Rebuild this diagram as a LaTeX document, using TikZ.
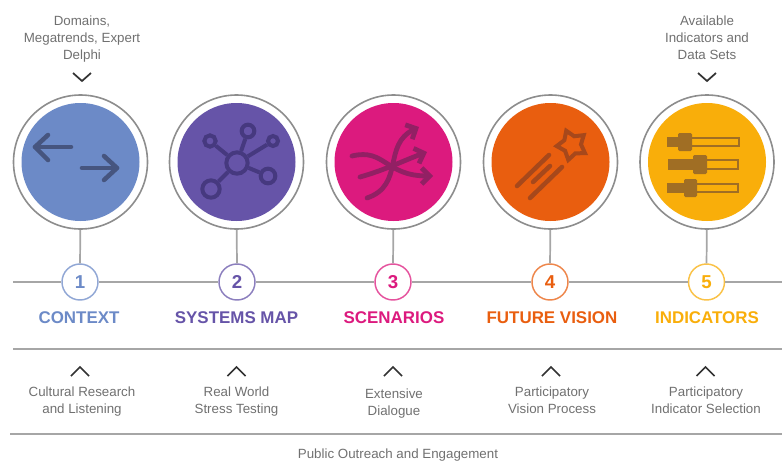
\documentclass[tikz,border=0pt]{standalone}
\usepackage{fontspec}
\setmainfont{Liberation Sans}
\usetikzlibrary{arrows.meta}
\usetikzlibrary{shapes.geometric}
\definecolor{cBlue}{HTML}{6C8AC7}
\definecolor{cPurple}{HTML}{6654A8}
\definecolor{cPink}{HTML}{DC1A7E}
\definecolor{cOrange}{HTML}{E95E0F}
\definecolor{cYellow}{HTML}{F9AE0A}
\definecolor{iBlue}{HTML}{46557F}
\definecolor{iPurple}{HTML}{46397F}
\definecolor{iPink}{HTML}{922064}
\definecolor{iOrange}{HTML}{A7481B}
\definecolor{iYellow}{HTML}{A06E24}
\definecolor{cText}{HTML}{707070}
\definecolor{cRule}{HTML}{A6A6A6}
\tikzset{
  ring/.style={circle, draw=cRule!85!black, line width=1.2pt, fill=white, minimum size=100.5pt, inner sep=0pt},
  disc/.style={circle, fill=#1, minimum size=88.5pt, inner sep=0pt},
  numring/.style={circle, draw=#1!75!white, line width=1.1pt, fill=white, text=#1, minimum size=27pt, inner sep=0pt, font=\fontsize{14}{14}\selectfont\bfseries},
  headlabel/.style={text=#1, font=\fontsize{12.7}{14}\selectfont\bfseries},
  note/.style={text=cText, align=center, font=\fontsize{10}{12.7}\selectfont},
  rule/.style={draw=cRule, line width=1.3pt},
  chevron/.style={draw=black!80, line width=1.3pt},
  hub/.style={circle, draw=iPurple, line width=3pt, inner sep=0pt, minimum size=#1},
}
\newcommand{\stage}[6]{
  \node[ring] (ring#1) at (#2, 162) {};
  \node[disc=#3] (disc#1) at (#2, 162) {};
  \node[numring=#3] (num#1) at (#4, 282) {#1};
  \node[headlabel=#3] (head#1) at (#6, 318) {#5};
  \draw[rule] (ring#1) -- (num#1);
}
\newcommand{\chevdown}[2]{\draw[chevron] (#1 - 9, #2) -- (#1, #2 + 8) -- (#1 + 9, #2);}
\newcommand{\chevup}[2]{\draw[chevron] (#1 - 9, #2 + 9) -- (#1, #2) -- (#1 + 9, #2 + 9);}
\newcommand{\slider}[7]{
  \draw[iYellow, line width=2.1pt] (#1, #3) rectangle (#2, #4);
  \fill[iYellow] (#1, #3) rectangle (#5, #4);
  \fill[iYellow, rounded corners=1pt] (#6, #3 - 5) rectangle (#7, #4 + 5);
}
\begin{document}
\begin{tikzpicture}[x=0.75pt, y=-0.75pt]
  \useasboundingbox (0, 0) rectangle (782, 461);
  \coordinate (lineL) at (13, 282);
  \coordinate (lineR) at (782, 282);
  \coordinate (ruleAL) at (13, 349);
  \coordinate (ruleAR) at (782, 349);
  \coordinate (ruleBL) at (10, 434);
  \coordinate (ruleBR) at (782, 434);
  % timeline
  \stage{1}{80.5}{cBlue}{80}{CONTEXT}{79}
  \stage{2}{236.5}{cPurple}{237}{SYSTEMS MAP}{236.5}
  \stage{3}{393.5}{cPink}{393}{SCENARIOS}{394}
  \stage{4}{550.5}{cOrange}{550}{FUTURE VISION}{552}
  \stage{5}{707}{cYellow}{706.5}{INDICATORS}{707}
  \draw[rule] (lineL) -- (num1);
  \draw[rule] (num1) -- (num2);
  \draw[rule] (num2) -- (num3);
  \draw[rule] (num3) -- (num4);
  \draw[rule] (num4) -- (num5);
  \draw[rule] (num5) -- (lineR);
  \draw[rule] (ruleAL) -- (ruleAR);
  \draw[rule] (ruleBL) -- (ruleBR);
  % top notes
  \node[note] (noteTopA) at (82, 39) {Domains,\\Megatrends, Expert\\Delphi};
  \node[note] (noteTopB) at (707, 38) {Available\\Indicators and\\Data Sets};
  \chevdown{82}{73}
  \chevdown{707}{73}
  % bottom notes
  \chevup{80}{367}
  \chevup{236.5}{367}
  \chevup{393}{367}
  \chevup{551}{367}
  \chevup{705.5}{367}
  \node[note] (noteA) at (82, 402) {Cultural Research\\and Listening};
  \node[note] (noteB) at (236.5, 402) {Real World\\Stress Testing};
  \node[note] (noteC) at (394, 404) {Extensive\\Dialogue};
  \node[note] (noteD) at (552, 400.5) {Participatory\\Vision Process};
  \node[note] (noteE) at (706, 400.5) {Participatory\\Indicator Selection};
  \node[note] (noteF) at (398, 455) {Public Outreach and Engagement};
  % icon1
  \begin{scope}[iBlue, line width=3.4pt, line cap=round, line join=round]
    \draw (71, 147) -- (35, 147);
    \draw (48, 135) -- (35, 147) -- (48, 160);
    \draw (82, 168) -- (117, 168);
    \draw (104, 156) -- (117, 168) -- (104, 180);
  \end{scope}
  % icon2
  \node[hub=16pt] (hubC) at (237, 163) {};
  \node[hub=9.5pt] (hubA) at (248, 131) {};
  \node[hub=8.5pt] (hubB) at (210, 141) {};
  \node[hub=7.5pt] (hubD) at (273, 141) {};
  \node[hub=11pt] (hubE) at (268, 176) {};
  \node[hub=13pt] (hubF) at (211, 189) {};
  \foreach \sat in {hubA, hubB, hubD, hubE, hubF}
    \draw[iPurple, line width=3pt] (hubC) -- (\sat);
  % icon3
  \begin{scope}[iPink, line width=3.6pt, line cap=round, line join=round]
    \draw[-{Straight Barb[length=6pt, width=12pt]}] (352, 156) .. controls (385, 148) and (385, 176) .. (433, 176);
    \draw[-{Straight Barb[length=6pt, width=12pt]}] (360, 177) .. controls (385, 170) and (405, 160) .. (427, 152);
    \draw[-{Straight Barb[length=6pt, width=12pt]}] (367, 198) .. controls (405, 185) and (382, 145) .. (419, 127);
  \end{scope}
  % icon4
  \node[star, star points=5, star point ratio=1.7, draw=iOrange, line width=3pt, minimum size=23pt, inner sep=0pt, rotate=22] (starA) at (572, 145) {};
  \begin{scope}[iOrange, line width=3.4pt, line cap=round]
    \draw (517, 186) -- (549, 155);
    \draw (533, 182) -- (550, 166);
    \draw (530, 198) -- (562, 167);
  \end{scope}
  % icon5
  \slider{668}{739}{138}{146}{680}{678}{692}{}
  \slider{669}{738}{160}{169}{695}{693}{707}{}
  \slider{668}{738}{184}{192}{686}{684}{697}{}
\end{tikzpicture}
\end{document}
